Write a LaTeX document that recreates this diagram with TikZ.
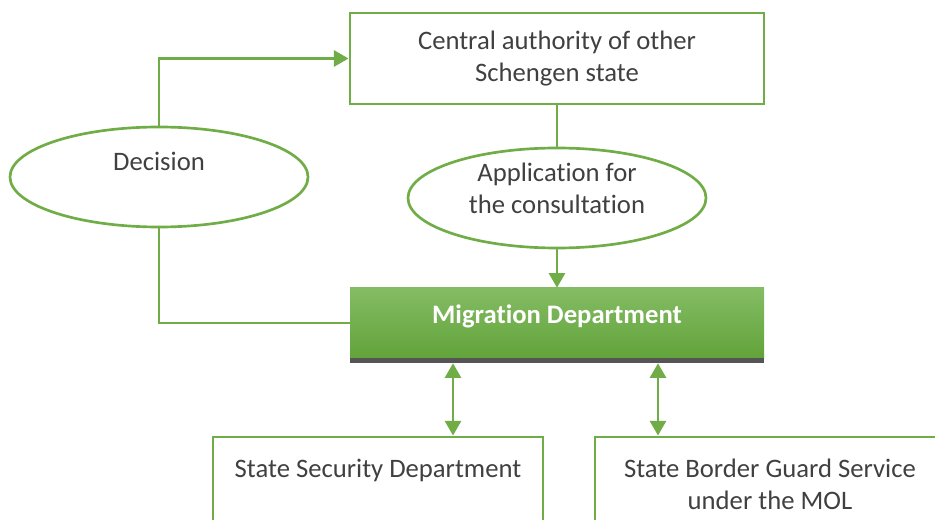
\documentclass[tikz,border=0pt]{standalone}
\usepackage{fontspec}
\setmainfont{Carlito}[RawFeature={-liga}]
\usetikzlibrary{shapes.geometric,arrows.meta}
\definecolor{leafgreen}{HTML}{70AD47}
\definecolor{lightleaf}{HTML}{84BC64}
\definecolor{darkleaf}{HTML}{62A33A}
\definecolor{inkgray}{HTML}{404040}
\definecolor{edgegray}{HTML}{555555}

\begin{document}
\begin{tikzpicture}[x=0.75pt,y=-0.75pt,
        every node/.style={font=\fontsize{20}{24}\selectfont, text=inkgray, align=center},
        office/.style={draw=leafgreen, line width=2.2pt, rectangle, inner sep=0pt},
        message/.style={draw=leafgreen, line width=2pt, ellipse, inner sep=0pt,
            minimum width=223.5pt, minimum height=75pt},
        link/.style={draw=leafgreen, line width=2.2pt},
        tip/.style={-{Triangle[width=12pt,length=11pt]}},
        twotips/.style={{Triangle[width=12pt,length=11pt]}-{Triangle[width=12pt,length=11pt]}}]
        \clip (0,0) rectangle (935,520);

        %Boxes and messages
        \node[office, minimum width=310.5pt, minimum height=68.25pt] (central) at (557,58.5)
            {Central authority of other\\Schengen state};
        \node[message] (decision) at (159,177) {Decision\\\mbox{}};
        \node[message] (request) at (557,198) {};
        \node (requesttext) at (557,188) {Application for\\the consultation};
        \node[rectangle, inner sep=0pt, minimum width=310.5pt, minimum height=52.5pt,
            top color=lightleaf, bottom color=darkleaf, text=white,
            font=\fontsize{20}{24}\selectfont\bfseries,
            text height=14pt, text depth=14pt] (migration) at (557,323) {Migration Department};
        \fill[edgegray] (migration.south west) rectangle ++(414,5);
        \node[office, minimum width=247.5pt, minimum height=70.5pt] (security) at (378,484)
            {State Security Department\\\mbox{}};
        \node[office, minimum width=262.5pt, minimum height=70.5pt] (border) at (770,484)
            {State Border Guard Service\\under the MOL};

        %Connectors
        \draw[link, tip] (decision.north) |- (central.west);
        \draw[link] (decision.south) |- (migration.west);
        \draw[link] (central.south) -- (request.north);
        \draw[link, tip] (request.south) -- (migration.north);
        \draw[link, twotips]
            ([xshift=-78pt,yshift=-3.75pt]migration.south) -- ([xshift=-78pt]migration.south |- security.north);
        \draw[link, twotips]
            ([xshift=75.75pt,yshift=-3.75pt]migration.south) -- ([xshift=75.75pt]migration.south |- border.north);
    \end{tikzpicture}
\end{document}
